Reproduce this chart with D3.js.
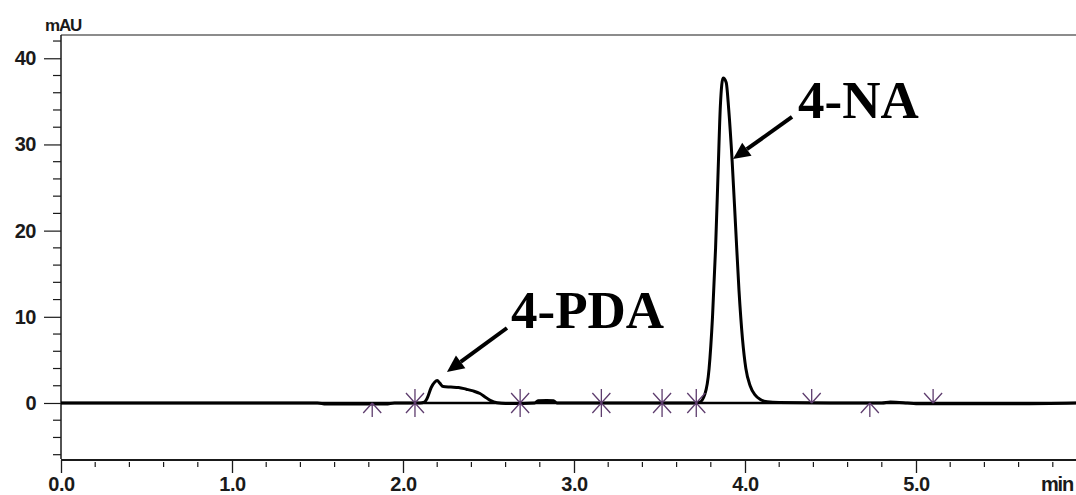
<!DOCTYPE html>
<html>
<head>
<meta charset="utf-8">
<script src="https://cdn.jsdelivr.net/npm/d3@7"></script>
<style>
html,body{margin:0;padding:0;background:#fff;}
svg{display:block;}
</style>
</head>
<body>
<svg id="chart" width="1076" height="495"></svg>
<script>
// ---- data (time in min, absorbance in mAU) ----
const time = [0.0, 1.0, 1.5, 1.55, 1.9, 1.95, 2.05, 2.10, 2.125, 2.14, 2.165, 2.185, 2.20, 2.215, 2.235, 2.28, 2.325, 2.37, 2.41, 2.45, 2.48, 2.51, 2.55, 2.60, 2.70, 2.77, 2.79, 2.84, 2.88, 2.90, 3.2, 3.5, 3.70, 3.735, 3.765, 3.79, 3.81, 3.828, 3.843, 3.856, 3.872, 3.89, 3.905, 3.925, 3.945, 3.965, 3.985, 4.005, 4.03, 4.06, 4.09, 4.13, 4.2, 4.5, 4.8, 4.85, 4.95, 5.0, 5.6, 5.94];
const absorbance = [0.0, 0.0, 0.0, -0.12, -0.12, 0.0, 0.0, 0.0, 0.1, 0.5, 1.8, 2.4, 2.6, 2.3, 1.9, 1.85, 1.8, 1.6, 1.4, 1.1, 0.7, 0.3, 0.02, -0.05, -0.05, 0.0, 0.25, 0.3, 0.25, 0.0, 0.0, 0.0, 0.0, 0.1, 1.0, 4.0, 10.0, 18.0, 27.0, 34.5, 37.7, 37.2, 34.0, 28.0, 20.5, 13.0, 7.5, 4.0, 2.0, 0.9, 0.4, 0.15, 0.05, 0.0, 0.0, 0.12, 0.0, -0.08, -0.08, 0.0];

const xMajorTicks = [0, 1, 2, 3, 4, 5];
const xTickLabels = ["0.0", "1.0", "2.0", "3.0", "4.0", "5.0"];
const yMajorTicks = [0, 10, 20, 30, 40];
const yTickLabels = ["0", "10", "20", "30", "40"];

// integration markers: time and kind (full / up = upper half / down = lower half)
const markerTimes = [1.82, 2.07, 2.685, 3.16, 3.515, 3.715, 4.39, 4.73, 5.10];
const markerKinds = ["down", "full", "full", "full", "full", "full", "up", "down", "up"];

// annotations (data units)
const annLabels = ["4-PDA", "4-NA"];
const annTail = [[2.608, 8.7], [4.275, 33.2]];
const annTip = [[2.257, 3.6], [3.930, 28.3]];
const annText = [[2.632, 8.7], [4.31, 33.1]];

// ---- layout ----
const svg = d3.select("#chart");
const pLeft = 61, pTop = 35, pBottom = 459, pRight = 1087;
const x = d3.scaleLinear().domain([0, 6]).range([pLeft, pRight]);
const y = d3.scaleLinear().domain([-6.5, 42.7]).range([pBottom, pTop]);

const ink = "#1a1a1a";

// frame: top border
svg.append("line").attr("x1", pLeft).attr("x2", 1076).attr("y1", pTop).attr("y2", pTop)
  .attr("stroke", ink).attr("stroke-width", 1.2);

// y axis
const yAxis = d3.axisLeft(y).tickValues(yMajorTicks).tickSize(17).tickPadding(8)
  .tickFormat((d, i) => yTickLabels[i]);
const gy = svg.append("g").attr("transform", `translate(${pLeft},0)`).call(yAxis);
gy.select(".domain").attr("d", `M0,${pTop}V${pBottom}`).attr("stroke", ink).attr("stroke-width", 1.5);
gy.selectAll(".tick line").attr("stroke", ink).attr("stroke-width", 1.2);
gy.selectAll(".tick text").attr("font-family", "Liberation Sans, Arial, sans-serif")
  .attr("font-weight", "bold").attr("font-size", 20).attr("fill", ink).attr("letter-spacing", -0.5);
const yMinor = d3.range(-6, 43, 2).filter(v => v % 10 !== 0);
svg.append("g").selectAll("line").data(yMinor).join("line")
  .attr("x1", pLeft - 8).attr("x2", pLeft).attr("y1", d => y(d)).attr("y2", d => y(d))
  .attr("stroke", ink).attr("stroke-width", 1.2);

// x axis
const xAxis = d3.axisBottom(x).tickValues(xMajorTicks).tickSize(13).tickPadding(4)
  .tickFormat((d, i) => xTickLabels[i]);
const gx = svg.append("g").attr("transform", `translate(0,${pBottom + 1})`).call(xAxis);
gx.select(".domain").attr("d", `M${pLeft},0H1076`).attr("stroke", ink).attr("stroke-width", 1.8);
gx.selectAll(".tick line").attr("stroke", ink).attr("stroke-width", 1.3);
gx.selectAll(".tick text").attr("font-family", "Liberation Sans, Arial, sans-serif")
  .attr("font-weight", "bold").attr("font-size", 20).attr("fill", ink).attr("letter-spacing", -0.5);
const xMinor = d3.range(1, 30).map(i => i * 0.2).filter(v => Math.abs(v - Math.round(v)) > 1e-6);
svg.append("g").selectAll("line").data(xMinor).join("line")
  .attr("x1", d => x(d)).attr("x2", d => x(d)).attr("y1", pBottom + 3).attr("y2", pBottom + 8)
  .attr("stroke", ink).attr("stroke-width", 1.2);

// axis titles
svg.append("text").attr("x", pLeft - 16).attr("y", 31).text("mAU")
  .attr("font-family", "Liberation Sans, Arial, sans-serif").attr("font-weight", "bold")
  .attr("font-size", 17).attr("letter-spacing", -1.2).attr("fill", ink);
svg.append("text").attr("x", 1073).attr("y", 491).attr("text-anchor", "end").text("min")
  .attr("font-family", "Liberation Sans, Arial, sans-serif").attr("font-weight", "bold")
  .attr("font-size", 20).attr("letter-spacing", -1.2).attr("fill", ink);

// zero baseline
svg.append("line").attr("x1", pLeft).attr("x2", 1076).attr("y1", y(0)).attr("y2", y(0))
  .attr("stroke", "#000").attr("stroke-width", 2.5);

// chromatogram trace
const pts = time.map((t, i) => [t, absorbance[i]]);
svg.append("path").datum(pts)
  .attr("d", d3.line().x(d => x(d[0])).y(d => y(d[1])).curve(d3.curveMonotoneX))
  .attr("fill", "none").attr("stroke", "#000").attr("stroke-width", 3).attr("stroke-linejoin", "round");

// markers
const mk = svg.append("g").attr("stroke", "#5e3d6e").attr("stroke-width", 1.3).attr("fill", "none");
markerTimes.forEach((t, i) => {
  const cx = x(t), cy = y(0), kind = markerKinds[i];
  const L = 14, dx = 9, dy = 10;
  let d = "";
  if (kind === "full" || kind === "up") d += `M${cx},${cy}V${cy - L}M${cx},${cy}L${cx - dx},${cy - dy}M${cx},${cy}L${cx + dx},${cy - dy}`;
  if (kind === "full" || kind === "down") d += `M${cx},${cy}V${cy + L}M${cx},${cy}L${cx - dx},${cy + dy}M${cx},${cy}L${cx + dx},${cy + dy}`;
  mk.append("path").attr("d", d);
});

// annotations
annLabels.forEach((lab, i) => {
  const x1 = x(annTail[i][0]), y1 = y(annTail[i][1]);
  const x2 = x(annTip[i][0]), y2 = y(annTip[i][1]);
  const ang = Math.atan2(y2 - y1, x2 - x1);
  const hl = 17, hw = 8;
  const bx = x2 - hl * Math.cos(ang), by = y2 - hl * Math.sin(ang);
  svg.append("line").attr("x1", x1).attr("y1", y1).attr("x2", bx).attr("y2", by)
    .attr("stroke", "#000").attr("stroke-width", 4);
  const px = -Math.sin(ang), py = Math.cos(ang);
  svg.append("path")
    .attr("d", `M${x2},${y2}L${bx + px * hw},${by + py * hw}L${bx - px * hw},${by - py * hw}Z`)
    .attr("fill", "#000");
  svg.append("text").attr("x", x(annText[i][0])).attr("y", y(annText[i][1])).text(lab)
    .attr("font-family", "Liberation Serif, Times New Roman, serif").attr("font-weight", "bold")
    .attr("font-size", 53).attr("fill", "#000");
});
</script>
</body>
</html>
